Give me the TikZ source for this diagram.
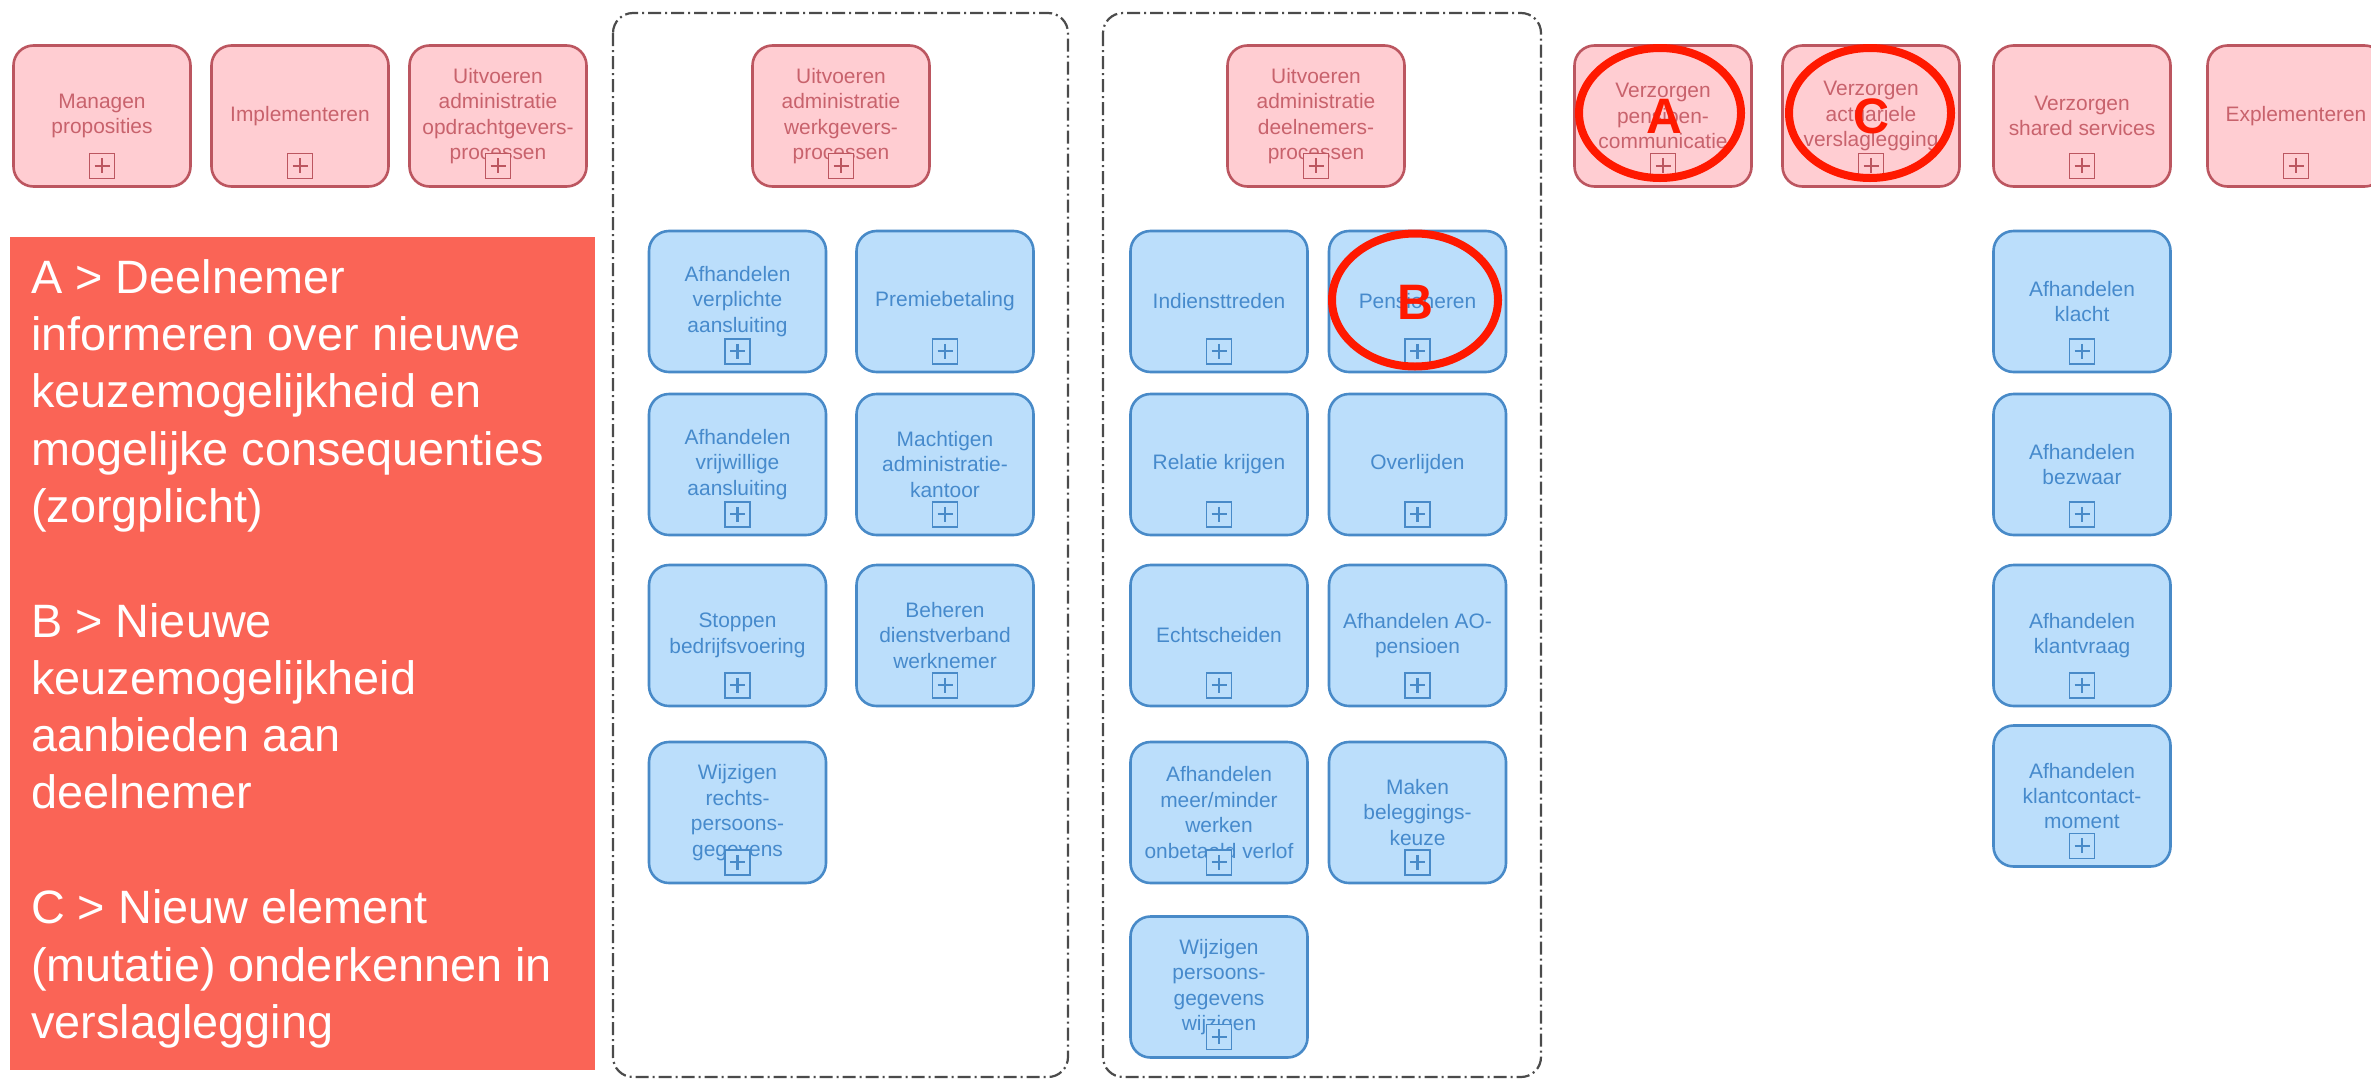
\documentclass[tikz,border=0pt]{standalone}
\usepackage{fontspec}
\setmainfont{Liberation Sans}
\usetikzlibrary{shapes.geometric}
\definecolor{pinkfill}{RGB}{255,205,210}
\definecolor{pinkdraw}{RGB}{188,86,96}
\definecolor{pinktext}{RGB}{200,98,108}
\definecolor{bluefill}{RGB}{187,222,251}
\definecolor{bluedraw}{RGB}{72,138,200}
\definecolor{bluetext}{RGB}{70,138,204}
\definecolor{panelred}{RGB}{250,100,86}
\definecolor{markred}{RGB}{255,25,0}
\definecolor{framegray}{RGB}{75,75,75}
\begin{document}
\begin{tikzpicture}[x=1bp,y=-1bp,
  procbox/.style={rounded corners=20bp, line width=2.6bp, minimum width=177bp,
    minimum height=141bp, align=center, inner sep=0pt,
    font=\fontsize{21}{25.5}\selectfont},
  pinkbox/.style={procbox, draw=pinkdraw, fill=pinkfill, text=pinktext},
  bluebox/.style={procbox, draw=bluedraw, fill=bluefill, text=bluetext},
  plusicon/.style={draw=#1, minimum size=25bp, inner sep=0pt, line width=1.6bp,
    path picture={\draw[#1, line width=2.2bp]
      ([yshift=-5bp]path picture bounding box.north) -- ([yshift=5bp]path picture bounding box.south)
      ([xshift=5bp]path picture bounding box.west) -- ([xshift=-5bp]path picture bounding box.east);}},
  pinkplus/.style={plusicon=pinkdraw, fill=pinkfill},
  blueplus/.style={plusicon=bluedraw, fill=bluefill},
  frame/.style={draw=framegray, line width=2.2bp, rounded corners=20bp,
    dash pattern=on 13bp off 4bp on 2bp off 4bp},
  markring/.style={ellipse, draw=markred, line width=8bp, inner sep=0pt,
    minimum width=162bp, minimum height=130bp},
  markletter/.style={text=markred, inner sep=0pt, font=\fontsize{50}{50}\selectfont\bfseries},
]
\useasboundingbox (0,0) rectangle (2371,1080);
\clip (0,0) rectangle (2371,1080);
\fill[white] (0,0) rectangle (2371,1080);

% dashed containers
\draw[frame] (613,13) rectangle (1068,1077);
\draw[frame] (1103,13) rectangle (1541,1077);

% top row
\node[pinkbox] (p1) at (102,116) {Managen\\proposities};
\node[pinkbox] (p2) at (300,116) {Implementeren};
\node[pinkbox] (p3) at (498,116) {Uitvoeren\\administratie\\opdrachtgevers-\\processen};
\node[pinkbox] (p4) at (841,116) {Uitvoeren\\administratie\\werkgevers-\\processen};
\node[pinkbox] (p5) at (1316,116) {Uitvoeren\\administratie\\deelnemers-\\processen};
\node[pinkbox] (p6) at (1663,116) {Verzorgen\\pensioen-\\communicatie};
\node[pinkbox] (p7) at (1871,116) {Verzorgen\\actuariele\\verslaglegging};
\node[pinkbox] (p8) at (2082,116) {Verzorgen\\shared services};
\node[pinkbox] (p9) at (2296,116) {Explementeren};
\foreach \n in {p1,p2,p3,p4,p5,p6,p7,p8,p9}
  \node[pinkplus] (\n x) at ([yshift=22bp]\n.south) {};

% werkgevers
\node[bluebox] (w1) at (737.5,301.5) {Afhandelen\\verplichte\\aansluiting};
\node[bluebox] (w2) at (945,301.5) {Premiebetaling};
\node[bluebox] (w3) at (737.5,464.5) {Afhandelen\\vrijwillige\\aansluiting};
\node[bluebox] (w4) at (945,464.5) {Machtigen\\administratie-\\kantoor};
\node[bluebox] (w5) at (737.5,635.5) {Stoppen\\bedrijfsvoering};
\node[bluebox] (w6) at (945,635.5) {Beheren\\dienstverband\\werknemer};
\node[bluebox] (w7) at (737.5,812.5) {Wijzigen\\rechts-\\persoons-\\gegevens};

% deelnemers
\node[bluebox] (d1) at (1219,301.5) {Indiensttreden};
\node[bluebox] (d2) at (1417.5,301.5) {Pensioneren};
\node[bluebox] (d3) at (1219,464.5) {Relatie krijgen};
\node[bluebox] (d4) at (1417.5,464.5) {Overlijden};
\node[bluebox] (d5) at (1219,635.5) {Echtscheiden};
\node[bluebox] (d6) at (1417.5,635.5) {Afhandelen AO-\\pensioen};
\node[bluebox] (d7) at (1219,812.5) {Afhandelen\\meer/minder\\werken\\onbetaald verlof};
\node[bluebox] (d8) at (1417.5,812.5) {Maken\\beleggings-\\keuze};
\node[bluebox] (d9) at (1219,987) {Wijzigen\\persoons-\\gegevens\\wijzigen};

% shared services
\node[bluebox] (s1) at (2082,301.5) {Afhandelen\\klacht};
\node[bluebox] (s2) at (2082,464.5) {Afhandelen\\bezwaar};
\node[bluebox] (s3) at (2082,635.5) {Afhandelen\\klantvraag};
\node[bluebox] (s4) at (2082,796) {Afhandelen\\klantcontact-\\moment};

\foreach \n in {w1,w2,w3,w4,w5,w6,w7,d1,d2,d3,d4,d5,d6,d7,d8,d9,s1,s2,s3,s4}
  \node[blueplus] (\n x) at ([yshift=22bp]\n.south) {};

% legend panel
\node[fill=panelred, minimum width=585bp, minimum height=833bp, inner sep=0pt,
  anchor=north west] (legendbox) at (10,237) {};
\node[anchor=north west, inner sep=0pt, align=left, text=white,
  font=\fontsize{47}{57.5}\selectfont] (legend) at (31,259)
  {A > Deelnemer\\informeren over nieuwe\\keuzemogelijkheid en\\mogelijke consequenties\\(zorgplicht)\\[57.5bp]%
   B > Nieuwe\\keuzemogelijkheid\\aanbieden aan\\deelnemer\\[57.5bp]%
   C > Nieuw element\\(mutatie) onderkennen in\\verslaglegging};

% marks
\node[markring] (ringA) at (1660,113) {};
\node[markletter] (markA) at (1664,116) {A};
\node[markring] (ringC) at (1870,113) {};
\node[markletter] (markC) at (1871,116) {C};
\node[markring, minimum width=166bp, minimum height=133bp] (ringB) at (1415,300) {};
\node[markletter] (markB) at (1415,302) {B};
\end{tikzpicture}
\end{document}
